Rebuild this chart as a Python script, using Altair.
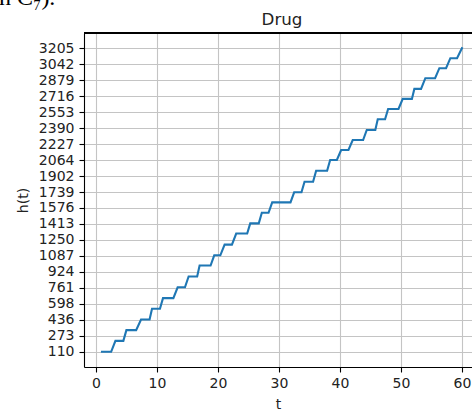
import altair as alt
import pandas as pd

# Step levels of h(t) and the t-range over which each level is held
levels = [110, 222, 331, 440, 549, 657, 768, 878, 990, 1094, 1203, 1316, 1419,
          1527, 1633, 1736, 1844, 1956, 2065, 2167, 2269, 2371, 2480, 2585,
          2688, 2790, 2899, 3001, 3103, 3205]
flat_start = [1.0, 3.2, 5.0, 7.4, 9.2, 11.0, 13.4, 15.2, 17.0, 19.4, 21.1, 23.0,
              25.3, 27.2, 28.9, 32.5, 34.2, 36.1, 38.4, 40.2, 42.1, 44.4, 46.2,
              47.9, 50.3, 52.2, 54.0, 56.3, 58.1, 60.0]
flat_end = [2.5, 4.5, 6.6, 8.8, 10.5, 12.7, 14.6, 16.6, 18.8, 20.4, 22.3, 24.8,
            26.7, 28.3, 31.9, 33.7, 35.6, 37.9, 39.5, 41.4, 43.8, 45.8, 47.4,
            49.6, 51.8, 53.3, 55.6, 57.4, 59.2, 60.0]

y_ticks = [110, 273, 436, 598, 761, 924, 1087, 1250, 1413, 1576, 1739, 1902,
           2064, 2227, 2390, 2553, 2716, 2879, 3042, 3205]
x_ticks = [0, 10, 20, 30, 40, 50, 60]

title_text = ["Drug"]
caption_text = ["n C₇)."]

rows = []
for i, (a, b, h) in enumerate(zip(flat_start, flat_end, levels)):
    rows.append({"t": a, "h": h, "k": 2 * i})
    if b != a:
        rows.append({"t": b, "h": h, "k": 2 * i + 1})
df = pd.DataFrame(rows)

W, H = 388, 334
FONT = "DejaVu Sans"

x_enc = alt.X(
    "t:Q",
    scale=alt.Scale(domain=[-1.95, 61.65], nice=False, zero=False),
    axis=alt.Axis(values=x_ticks, title="t", format="d", grid=True,
                  gridColor="#c4c4c4", gridWidth=1.1,
                  domainColor="black", domainWidth=1.1,
                  tickColor="black", tickWidth=1.1, tickSize=5,
                  labelPadding=4, labelFont=FONT, labelFontSize=14,
                  labelColor="#222222", titleFont=FONT, titleFontSize=14,
                  titleFontWeight="normal", titleColor="#222222",
                  titlePadding=7),
)
y_enc = alt.Y(
    "h:Q",
    scale=alt.Scale(domain=[-44.75, 3359.75], nice=False, zero=False),
    axis=alt.Axis(values=y_ticks, title="h(t)", format="d", grid=True,
                  gridColor="#c4c4c4", gridWidth=1.1,
                  domainColor="black", domainWidth=1.1,
                  tickColor="black", tickWidth=1.1, tickSize=5,
                  labelPadding=5, labelFont=FONT, labelFontSize=14,
                  labelColor="#222222", titleFont=FONT, titleFontSize=14,
                  titleFontWeight="normal", titleColor="#222222",
                  titlePadding=8),
)

line = alt.Chart(df).mark_line(color="#1f77b4", strokeWidth=2.1,
                               strokeCap="square").encode(
    x=x_enc, y=y_enc, order="k:Q"
)

# top frame edge
top_edge = alt.Chart(df).mark_rule(color="black", strokeWidth=1.1).encode(
    x=alt.value(0), x2=alt.value(W + 10), y=alt.value(0)
)

# plot title, centred over the full frame
title = alt.Chart(pd.DataFrame({"s": title_text})).mark_text(
    align="center", baseline="alphabetic", font=FONT, fontSize=16.7,
    color="#222222"
).encode(x=alt.value(W / 2 + 4), y=alt.value(-8), text="s:N")

# tail of the caption line above the figure
caption = alt.Chart(pd.DataFrame({"s": caption_text})).mark_text(
    align="left", baseline="alphabetic", font="Liberation Serif",
    fontSize=24, color="black"
).encode(x=alt.value(-85), y=alt.value(-28), text="s:N")

chart = alt.layer(line, top_edge, title, caption).properties(
    width=W, height=H,
    autosize=alt.AutoSizeParams(type="none"),
    padding={"left": 84, "top": 33, "right": 0, "bottom": 48},
).configure_view(stroke=None)

chart.save("out.html", embed_options={"renderer": "svg", "actions": False})
